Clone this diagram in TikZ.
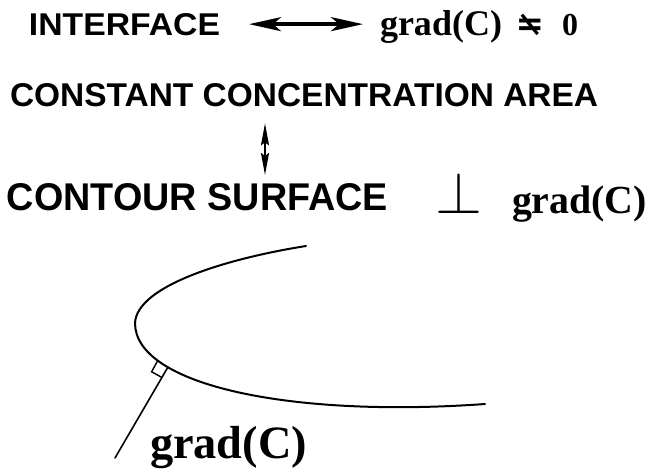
\documentclass[tikz,border=0pt]{standalone}
\usepackage{graphicx}
\usepackage{fontspec}
\setmainfont{Liberation Serif}
\setsansfont{Liberation Sans}
\newfontfamily\symfont{DejaVu Sans}
\usetikzlibrary{arrows.meta,calc}
\begin{document}
\begin{tikzpicture}[x=1pt,y=-1pt,
  txt/.style={inner sep=0pt, outer sep=0pt, anchor=base west},
  bigarrow/.style={line width=3.4pt, {Stealth[length=32pt,width=14pt,inset=8pt]}-{Stealth[length=32pt,width=14pt,inset=8pt]}},
  thinarrow/.style={line width=2pt, {Stealth[length=22pt,width=8pt,inset=3pt]}-{Stealth[length=22pt,width=8pt,inset=3pt]}},
  curveline/.style={line width=2pt, line cap=round},
  normalline/.style={line width=1.6pt, line cap=round},
  rightangle/.style={line width=1.4pt}]
\useasboundingbox (0,0) rectangle (649,469);
% line 1
\node[txt] (interface) at (29,35) {\resizebox{191pt}{22pt}{\sffamily\bfseries INTERFACE}};
\node[txt] (grad1) at (380,35) {\resizebox{122pt}{!}{\bfseries grad(C)}};
\node[txt] (neq) at (516,35) {\reflectbox{\fontsize{34}{34}\symfont\bfseries ≠}};
\node[txt] (zero) at (562,35) {\fontsize{32}{32}\selectfont\bfseries 0};
\draw[bigarrow] ([xshift=29pt]interface.east) -- ([xshift=-17pt]interface.east -| grad1.west);
% line 2
\node[txt] (area) at (10,106) {\resizebox{588pt}{23pt}{\sffamily\bfseries CONSTANT CONCENTRATION AREA}};
% line 3
\node[txt] (contour) at (7,210) {\resizebox{381pt}{27pt}{\sffamily\bfseries CONTOUR SURFACE}};
\node[txt] (perp) at (435,213) {\resizebox{47pt}{41pt}{$\perp$}};
\node[txt] (grad3) at (512,213) {\resizebox{135pt}{!}{\bfseries grad(C)}};
% vertical arrow
\coordinate (vx) at (265,0);
\path (area.south -| vx) ++(0,17) coordinate (v1);
\path (contour.north -| vx) ++(0,-8) coordinate (v2);
\draw[thinarrow] (v1) -- (v2);
% contour curve
\coordinate (A) at (306,246);
\coordinate (L) at (135,323);
\coordinate (B) at (485,404);
\coordinate (P) at (168,367);
\coordinate (E) at (115,458);
\draw[curveline] (A) .. controls (230,258) and (137,285) .. (L)
                     .. controls (135,385) and (290,418) .. (B);
\draw[normalline] (P) -- (E);
\draw[rightangle] (162.2,377.6) -- (151.6,371.8) -- (157.4,361.2);
\node[txt] (grad4) at (150,458) {\resizebox{157pt}{!}{\bfseries grad(C)}};
\end{tikzpicture}
\end{document}
